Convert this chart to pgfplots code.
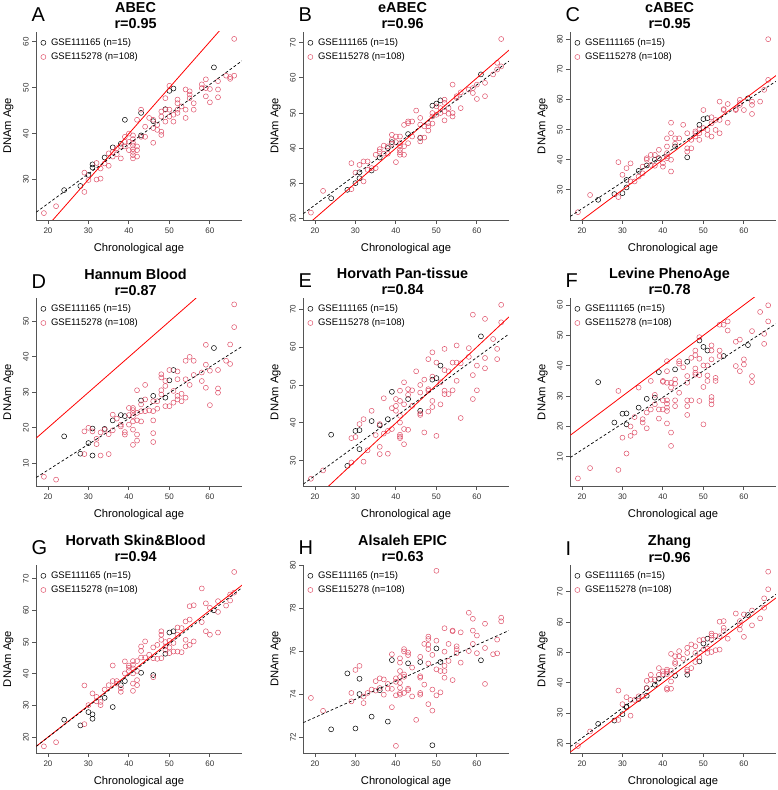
\documentclass[border=0pt]{standalone}
\usepackage{pgfplots}
\pgfplotsset{compat=1.18}
\usepackage{fontspec}
\setmainfont{Liberation Sans}
\definecolor{ptred}{HTML}{DF536B}
\definecolor{axgray}{HTML}{555555}
\newcommand{\legfont}{\fontsize{9.5}{10}\selectfont}
\pgfplotsset{
  panel/.style={
    scale only axis, width=205.5pt, height=188pt, anchor=south west,
    axis x line*=bottom, axis y line*=left,
    xmin=17.12, xmax=67.88, xtick={20,30,40,50,60},
    tick align=outside, major tick length=4pt,
    axis line style={draw=axgray, line width=0.9pt},
    every tick/.style={draw=axgray, line width=0.9pt},
    /pgf/number format/assume math mode=true,
    ticklabel style={font=\fontsize{8}{9}\selectfont, text=black!80},
    yticklabel style={rotate=90, anchor=south},
    xlabel={Chronological age}, ylabel={DNAm Age},
    label style={font=\fontsize{11.2}{13}\selectfont},
    xlabel style={at={(axis description cs:0.5,0)}, anchor=north, yshift=-23pt, inner sep=0pt},
    ylabel style={at={(axis description cs:-0.135,0.5)}, anchor=center, rotate=0, inner sep=0pt},
    clip mode=individual,
    legend cell align=left,
    legend style={at={(axis description cs:0,1)}, anchor=north west, draw=none, fill=none,
      font=\legfont, inner sep=0pt, xshift=4.4pt, yshift=-5.5pt, row sep=4pt,
      nodes={font=\legfont, inner sep=0.8pt, text height=6.8pt, text depth=1.8pt},
      /tikz/every odd column/.append style={column sep=4.4pt}},
    legend image code/.code={\draw[#1] plot coordinates {(0pt,0pt)};},
  },
  blk/.style={only marks, mark=o, mark size=2.5pt, color=black, mark options={line width=0.5pt}},
  rd/.style={only marks, mark=o, mark size=2.5pt, color=ptred, mark options={line width=0.5pt}},
  idl/.style={red, line width=0.8pt, forget plot},
  fitl/.style={black, dash pattern=on 2.8pt off 2.2pt, line width=0.7pt, forget plot},
}
\newcommand{\ptitle}[3]{%
  \node[anchor=base, font=\fontsize{14.4}{16}\selectfont\bfseries, inner sep=0pt] at ([yshift=19pt]axis description cs:0.483,1) {#2};
  \node[anchor=base, font=\fontsize{14.4}{16}\selectfont\bfseries, inner sep=0pt] at ([yshift=3pt]axis description cs:0.483,1) {r=#3};
  \node[anchor=base west, font=\fontsize{20}{22}\selectfont, inner sep=0pt] at ([xshift=-5pt,yshift=10pt]axis description cs:0,1) {#1};
}
\begin{document}
\begin{tikzpicture}
\useasboundingbox (0pt,0pt) rectangle (778pt,790pt);

% ---------------- A ----------------
\begin{axis}[panel, at={(36.3pt,570pt)}, ymin=21.2, ymax=62.1, ytick={30,40,50,60}]
\addplot[blk] coordinates {(24,27.7)(28,28.6)(30,31)(31,32.6)(31,33.3)(34,34.8)(36,37)(38,37.8)(39,43)(43,44.5)(43,39.6)(46,42.7)(49,45.3)(50,49.3)(51,49.8)(61,54.4)};
\addplot[rd] coordinates {(19,22.7)(22,24.2)(29,27.3)(29,31.5)(30,29.9)(32,30.0)(32,33.6)(33,30.2)(33,32.4)(34,33.5)(35,33)(35,35.7)(36,35)(36,36)(37,35.5)(37,36.8)(38,34.6)(38,37.2)(39,39.3)(39,38.2)(39,37.2)(40,40)(40,38.2)(40,36.4)(41,39.6)(41,38.8)(41,38)(41,37.4)(41,36.6)(41,36)(41,35.3)(41,34.6)(42,43)(42,37.2)(42,36.4)(42,35)(43,45.2)(43,39.3)(44,41.5)(44,39.3)(45,43.4)(46,43)(46,41.2)(46,38)(47,41.9)(47,40.8)(48,44.8)(48,43.7)(48,40.4)(48,39.7)(49,47.7)(49,45.2)(49,42.6)(50,50.4)(50,45.2)(50,43.7)(51,44.1)(51,42.6)(52,47.4)(52,46.6)(52,45.2)(52,44.5)(53,45.9)(54,49.6)(54,45.2)(54,43.4)(55,49.2)(55,48.5)(55,47.7)(56,46.6)(56,45.2)(58,50.7)(58,49.9)(59,51.8)(59,49.9)(59,48.1)(60,49.7)(60,46.8)(62,51.4)(62,49.6)(62,47.9)(64,52.6)(65,52.3)(65,51.9)(66,60.6)(66,52.6)};
\legend{GSE111165 (n=15),GSE115278 (n=108)}
\addplot[idl] coordinates {(0,0)(100,100)};
\addplot[fitl] coordinates {(17.12,22.9)(67.88,55.8)};
\ptitle{A}{ABEC}{0.95}
\end{axis}

% ---------------- B ----------------
\begin{axis}[panel, at={(303.3pt,570pt)}, ymin=19.5, ymax=73.1, ytick={20,30,40,50,60,70}]
\addplot[blk] coordinates {(24,25.7)(28,28.1)(30,30)(31,33.1)(31,31.4)(34,33.6)(36,37.3)(38,40)(39,41.7)(43,44)(46,42.9)(49,52.1)(50,52.7)(51,53.6)(61,61)};
\addplot[rd] coordinates {(19,21.6)(22,27.8)(29,35.7)(29,28.3)(30,33.0)(31,35.2)(32,36.2)(32,30.5)(33,36.2)(33,33.8)(34,34.3)(35,38.1)(35,34.3)(36,39.7)(36,39)(37,40.7)(37,38.4)(38,38.4)(38,40.5)(39,43.8)(39,42.4)(39,41.2)(40,43.3)(40,41.7)(40,36)(41,43.3)(41,41.4)(41,40.5)(41,39.5)(41,38.8)(41,38.1)(42,46.6)(42,40.5)(42,38.1)(43,47.1)(43,47.6)(43,41.4)(44,47.6)(44,43.3)(45,50.7)(46,48.6)(46,46.7)(46,43)(46,41.9)(47,46.2)(47,43)(48,47.1)(48,46.2)(48,45)(49,50)(49,49)(49,47)(50,51.9)(50,49.5)(51,51.4)(51,50)(52,53.8)(52,52.9)(52,50.5)(52,47.9)(53,51.4)(53,49.8)(54,58.1)(54,50)(54,49)(55,54.3)(55,54.8)(56,55.9)(56,51.4)(58,56.7)(59,57.1)(59,55.7)(60,58.1)(60,54)(62,58.6)(62,54.8)(64,61)(65,64.3)(65,62.4)(66,71.1)(66,63.3)};
\legend{GSE111165 (n=15),GSE115278 (n=108)}
\addplot[idl] coordinates {(0,0)(100,100)};
\addplot[fitl] coordinates {(17.12,21.3)(67.88,64.8)};
\ptitle{B}{eABEC}{0.96}
\end{axis}

% ---------------- C ----------------
\begin{axis}[panel, at={(570.3pt,570pt)}, ymin=20.0, ymax=82.4, ytick={30,40,50,60,70,80}]
\addplot[blk] coordinates {(24,26.7)(28,28.6)(30,28.9)(31,30.8)(31,33.3)(34,36.3)(36,38.1)(38,40)(39,40.5)(43,44.4)(46,40.8)(49,51.6)(50,53.5)(51,53.8)(61,60.4)};
\addplot[rd] coordinates {(19,22.6)(22,28.3)(29,39.2)(29,27.6)(30,35)(31,37.2)(32,38.8)(32,32.8)(33,32.8)(34,34.4)(35,37.7)(35,35.5)(36,40.5)(36,40)(37,41.6)(37,38.3)(38,41.6)(38,38)(39,43.3)(39,40.5)(40,38.8)(40,37.7)(41,47.1)(41,44.4)(41,42.2)(41,41.1)(41,40.5)(42,52.3)(42,48.8)(42,40)(42,36.1)(43,47.1)(43,45.3)(44,47.1)(45,51.6)(46,48.8)(46,43.8)(46,42.7)(47,43.8)(47,46.6)(48,47.7)(48,48.8)(48,49.4)(49,46.6)(49,48.8)(49,50.1)(50,56.5)(50,50.5)(51,49.9)(51,48.3)(52,54.1)(52,52.1)(52,47.7)(53,53.2)(53,49.9)(54,59.3)(54,53.2)(54,48.8)(55,56.5)(55,56.8)(56,58.5)(56,52.3)(58,56.5)(58,56.8)(59,59.9)(59,58.8)(59,58.2)(60,56.5)(62,59.3)(62,58.2)(62,55.2)(64,59.3)(65,63.2)(66,66.5)(66,80)};
\legend{GSE111165 (n=15),GSE115278 (n=108)}
\addplot[idl] coordinates {(0,0)(100,100)};
\addplot[fitl] coordinates {(17.12,21.2)(67.88,66.0)};
\ptitle{C}{cABEC}{0.95}
\end{axis}

% ---------------- D ----------------
\begin{axis}[panel, at={(36.3pt,304pt)}, ymin=3.6, ymax=56.6, ytick={10,20,30,40,50}]
\addplot[blk] coordinates {(24,17.6)(28,12.7)(30,15.7)(31,19.8)(31,12.2)(34,19.7)(36,22.1)(38,23.6)(39,23.3)(43,27.7)(46,29)(49,28.5)(50,33.4)(51,36.3)(61,42.5)};
\addplot[rd] coordinates {(19,6.2)(22,5.4)(29,19)(29,12.6)(30,20)(31,19)(32,16.9)(32,15.4)(33,18.7)(33,12.2)(34,19.5)(35,18.2)(35,12.6)(36,23.7)(36,19.3)(37,22.6)(38,20.4)(38,20.9)(39,18.8)(39,18.1)(40,25.6)(40,23.6)(40,20.9)(41,25.6)(41,25)(41,24.2)(41,23.3)(41,21.8)(41,19.5)(41,15.2)(42,30.6)(42,24.2)(42,22.1)(42,18.1)(42,16.4)(43,26.6)(43,24.7)(43,21.8)(44,32.1)(44,28)(44,24.7)(45,24.9)(46,27.5)(46,24.7)(46,22.1)(46,18.5)(46,16)(47,27.5)(47,25.4)(48,35.1)(48,34.2)(48,30.6)(48,29.4)(49,33.2)(49,31.8)(49,26.1)(50,36.3)(50,26.1)(51,30.4)(51,27.1)(52,35.9)(52,33.7)(52,29)(52,28.0)(53,29.6)(53,27.5)(54,38.9)(54,33.7)(54,28.5)(55,40)(55,32.1)(56,38.9)(56,34.9)(58,33.2)(58,35.6)(59,43.4)(59,37.8)(59,31.3)(60,36.1)(60,26.4)(62,36.3)(62,31.1)(62,29.9)(64,38.9)(65,43.5)(65,38)(66,54.8)(66,48.4)};
\legend{GSE111165 (n=15),GSE115278 (n=108)}
\addplot[idl] coordinates {(0,0)(100,100)};
\addplot[fitl] coordinates {(17.12,6.0)(67.88,42.9)};
\ptitle{D}{Hannum Blood}{0.87}
\end{axis}

% ---------------- E ----------------
\begin{axis}[panel, at={(303.3pt,304pt)}, ymin=23.4, ymax=72.9, ytick={30,40,50,60,70}]
\addplot[blk] coordinates {(24,36.9)(28,28.7)(30,37.9)(31,38.1)(31,33.1)(34,40.5)(36,39.4)(38,41)(39,48.2)(43,46.3)(46,43.2)(49,51.4)(50,51.8)(51,55.1)(61,62.8)};
\addplot[rd] coordinates {(19,25.3)(22,27.5)(29,29.6)(29,36)(30,36.3)(31,39.7)(32,41)(32,29.8)(33,32.8)(34,43.2)(35,36.8)(36,33.7)(36,31.8)(36,39.7)(37,46.5)(37,37.2)(38,31.9)(38,37.9)(39,43.9)(39,38.4)(40,46.3)(40,44.5)(40,43.2)(41,48.5)(41,45.8)(41,41.9)(41,40.1)(41,36.9)(41,36.4)(41,36)(42,50.7)(42,44.9)(42,38.4)(42,34.4)(43,48.9)(43,47.4)(43,38.2)(44,48.6)(44,44.5)(45,53.6)(46,50)(46,48)(46,42.5)(46,42.1)(47,51.4)(47,37.5)(48,56.8)(48,48.9)(48,48.5)(48,43)(49,58.6)(49,52.2)(49,45.8)(49,44.2)(50,55.9)(50,36.6)(51,50.7)(51,44.9)(52,59.5)(52,53.9)(52,48.5)(52,47.6)(53,53.6)(53,47.6)(54,55.9)(54,48.6)(55,60.4)(55,55.9)(55,51.1)(56,55.7)(56,41.3)(58,59.7)(58,57.4)(59,68.5)(59,52.6)(59,46.3)(60,55.1)(60,48.6)(62,67.4)(62,57.1)(62,54.4)(64,62.1)(65,59.5)(65,56.8)(66,71.1)(66,66.5)};
\legend{GSE111165 (n=15),GSE115278 (n=108)}
\addplot[idl] coordinates {(0,0)(100,100)};
\addplot[fitl] coordinates {(17.12,23.9)(67.88,63.4)};
\ptitle{E}{Horvath Pan-tissue}{0.84}
\end{axis}

% ---------------- F ----------------
\begin{axis}[panel, at={(570.3pt,304pt)}, ymin=0.4, ymax=62.3, ytick={10,20,30,40,50,60}]
\addplot[blk] coordinates {(24,34.6)(28,21.3)(30,24.2)(31,24.3)(31,20.7)(34,26.2)(36,29.1)(38,29.5)(39,37.9)(43,38.8)(46,41.3)(49,48.3)(50,46.2)(51,45)(55,43.2)(61,46.8)};
\addplot[rd] coordinates {(19,2.9)(22,6.3)(29,5.7)(29,31.7)(30,16.3)(31,11.1)(32,20)(32,16.9)(33,23.1)(33,18)(34,32.8)(35,22.4)(35,21.3)(36,24.6)(36,19.4)(37,35)(37,25.6)(38,30.4)(38,27.3)(39,22.6)(39,25.6)(40,35)(40,34.7)(40,28.6)(40,25.6)(41,41.5)(41,38.2)(41,34.4)(41,28.6)(41,27.5)(41,26.2)(41,25.1)(41,21)(42,34.4)(42,32.8)(42,18)(42,13.6)(43,35.5)(43,34.1)(43,28.6)(43,26.7)(44,41.5)(44,40.7)(44,31.1)(45,39.5)(46,36.6)(46,34.4)(46,28.6)(46,26.7)(46,23.8)(47,42.6)(47,28.6)(48,45)(48,43.5)(48,39.1)(48,37.7)(48,37.1)(49,49.4)(49,42.3)(49,36.9)(49,28.4)(50,40.1)(50,33)(50,20.7)(51,40.1)(51,36.8)(51,35)(52,46.7)(52,45)(52,42.1)(52,29.7)(52,28.6)(52,27.3)(53,36)(53,35)(54,53.5)(54,45)(54,43.2)(55,53.5)(56,54.6)(56,51.6)(58,47.9)(58,39.9)(59,48.6)(59,38.2)(60,42.1)(60,40.4)(62,51.4)(62,36.6)(62,34.6)(64,57.7)(65,50.5)(65,47.2)(66,59.9)(66,54.6)};
\legend{GSE111165 (n=15),GSE115278 (n=108)}
\addplot[idl] coordinates {(0,0)(100,100)};
\addplot[fitl] coordinates {(17.12,9.8)(67.88,53.8)};
\ptitle{F}{Levine PhenoAge}{0.78}
\end{axis}

% ---------------- G ----------------
\begin{axis}[panel, at={(36.3pt,37pt)}, ymin=15.0, ymax=74.3, ytick={20,30,40,50,60,70}]
\addplot[blk] coordinates {(24,25.5)(28,23.7)(30,27.9)(31,27.2)(31,25.8)(34,32.4)(36,29.5)(38,36.4)(39,37.7)(43,40.3)(46,39.6)(49,46.3)(50,53)(51,53.4)(61,60)};
\addplot[rd] coordinates {(19,17.1)(22,18.4)(29,36.3)(29,24.1)(30,30.1)(31,33.8)(32,32.7)(32,31.3)(33,31.1)(33,30.1)(34,35)(35,36.4)(36,42.6)(36,37.7)(37,37.7)(37,36.9)(38,34.3)(38,35.4)(39,43.9)(39,40.1)(40,42.6)(40,41.9)(40,40.9)(41,44)(41,42.8)(41,41.7)(41,40.1)(41,36.9)(41,34.6)(42,44)(42,40.9)(42,38)(42,36.4)(43,48.6)(43,47.2)(43,45.1)(44,50.2)(44,45.1)(45,46)(46,48.3)(46,44.9)(46,38.9)(47,49.1)(47,44.7)(48,53.4)(48,52.3)(48,50.7)(48,44.9)(49,50)(49,48.6)(49,47.5)(50,50.4)(50,48.3)(50,46.5)(51,49.7)(51,47)(52,54.6)(52,52.3)(52,47)(53,54.4)(53,46.8)(54,56.5)(54,50.7)(54,48.6)(55,61.3)(55,57.1)(55,49.1)(56,61.6)(56,50.2)(58,66.9)(58,56.3)(59,62.2)(59,53.4)(60,60.8)(60,52.3)(62,62.9)(62,59.5)(62,53)(64,61.5)(65,63.1)(65,65)(66,72.1)(66,65.6)};
\legend{GSE111165 (n=15),GSE115278 (n=108)}
\addplot[idl] coordinates {(0,0)(100,100)};
\addplot[fitl] coordinates {(17.12,17.1)(67.88,67.1)};
\ptitle{G}{Horvath Skin\&Blood}{0.94}
\end{axis}

% ---------------- H ----------------
\begin{axis}[panel, at={(303.3pt,37pt)}, ymin=71.28, ymax=80.02, ytick={72,74,76,78,80}]
\addplot[blk] coordinates {(24,72.38)(28,74.98)(30,72.42)(31,74.73)(31,74.02)(34,72.97)(36,74.2)(38,72.74)(39,75.6)(43,75.45)(46,75.51)(49,71.64)(50,76.14)(51,75.51)(61,75.59)};
\addplot[rd] coordinates {(19,73.84)(22,73.24)(29,74.07)(29,73.68)(30,75.14)(31,75.33)(32,73.6)(32,73.9)(33,74.07)(34,74.23)(35,74.62)(35,74.18)(36,74.75)(36,74.3)(37,74.7)(37,73.99)(38,74.49)(38,74.27)(39,75.87)(39,74.26)(39,73.41)(40,74.75)(40,74.59)(40,73.96)(40,71.61)(41,75.68)(41,75.48)(41,75.09)(41,74.81)(41,74.54)(41,74.31)(41,74.07)(41,73.99)(42,76.11)(42,76)(42,74.93)(42,74.82)(42,74.07)(43,75.95)(43,75.83)(43,74.27)(43,74.2)(44,75.25)(44,73.91)(45,72.82)(46,75.75)(46,74.85)(46,74.78)(46,74.07)(46,73.99)(47,76.35)(47,74.46)(48,76.69)(48,76.58)(48,76.31)(48,76.11)(48,75.44)(48,73.55)(49,75.84)(49,74.23)(49,73.25)(50,79.75)(50,76.5)(50,75.17)(50,73.96)(51,75.09)(51,74.1)(52,77.08)(52,75.99)(52,75.33)(52,75.09)(52,74.78)(53,76.35)(53,75.56)(54,76.97)(54,76.94)(54,74.67)(55,76.24)(55,76.11)(55,75.92)(56,76.89)(56,75.48)(58,77.8)(58,76.02)(59,77.52)(59,76.97)(59,76.35)(60,76.74)(60,75.92)(62,77.29)(62,76.16)(62,74.49)(64,75.87)(65,76.55)(65,75.91)(66,77.57)(66,77.4)};
\legend{GSE111165 (n=15),GSE115278 (n=108)}
\addplot[idl] coordinates {(0,0)(100,100)};
\addplot[fitl] coordinates {(17.12,72.69)(67.88,76.97)};
\ptitle{H}{Alsaleh EPIC}{0.63}
\end{axis}

% ---------------- I ----------------
\begin{axis}[panel, at={(570.3pt,37pt)}, ymin=16.8, ymax=78.8, ytick={20,30,40,50,60,70}]
\addplot[blk] coordinates {(24,26.4)(28,27.5)(30,29.6)(31,31.9)(31,32.1)(34,34.6)(36,35.7)(36,38.2)(38,39.3)(39,41.3)(43,42.3)(46,42.6)(49,47)(50,52.9)(51,54.5)(61,62.3)};
\addplot[rd] coordinates {(19,19.1)(22,23.9)(29,37.4)(29,27.7)(30,32.9)(31,35.2)(32,34.3)(32,29.1)(33,34.3)(34,35.5)(35,35.5)(36,40.6)(36,38.2)(37,42.6)(37,41)(38,41)(39,44.8)(39,42.6)(40,43.7)(40,42.8)(41,44.3)(41,43.7)(41,42.8)(41,38.2)(41,37.7)(42,49.5)(42,44)(42,40.4)(42,38)(43,48.7)(43,46.8)(43,46.2)(44,50.4)(44,48.7)(45,47.9)(46,51.5)(46,49.8)(46,44.3)(46,43.7)(47,52.6)(47,44.8)(48,52)(48,49.8)(48,46.8)(49,54)(49,48.4)(50,54.2)(50,50.9)(51,51.2)(51,49.8)(52,56.2)(52,55.5)(52,54.2)(52,50.1)(53,55.5)(53,50.7)(54,60.1)(54,50.9)(54,55.3)(55,60.3)(55,58.1)(55,57)(56,54.5)(58,62.8)(59,60.3)(59,57.5)(59,59)(60,62.5)(60,55.1)(62,63.8)(62,58.9)(64,61.2)(65,64.7)(65,67.8)(66,76.6)(66,70.8)};
\legend{GSE111165 (n=15),GSE115278 (n=108)}
\addplot[idl] coordinates {(0,0)(100,100)};
\addplot[fitl] coordinates {(17.12,18.9)(67.88,69.1)};
\ptitle{I}{Zhang}{0.96}
\end{axis}
\end{tikzpicture}
\end{document}
